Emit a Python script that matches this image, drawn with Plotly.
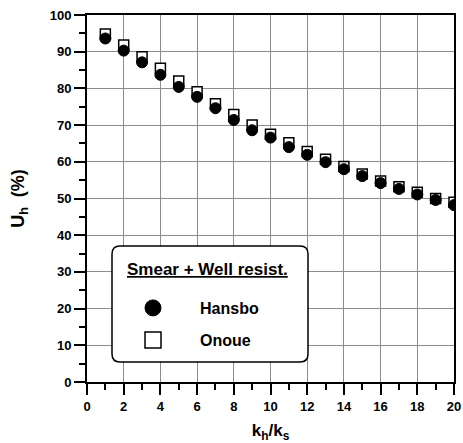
import plotly.graph_objects as go

# Data
kh_ks = [1, 2, 3, 4, 5, 6, 7, 8, 9, 10, 11, 12, 13, 14, 15, 16, 17, 18, 19, 20]
hansbo = [93.6, 90.3, 87.1, 83.7, 80.4, 77.7, 74.6, 71.4, 68.6, 66.6, 64.0, 61.9, 59.9, 58.0, 56.1, 54.2, 52.6, 51.1, 49.6, 48.2]
onoue = [94.8, 91.8, 88.6, 85.5, 82.0, 79.1, 75.8, 72.9, 70.0, 67.5, 65.2, 62.8, 60.7, 58.7, 56.7, 54.8, 53.2, 51.7, 50.0, 49.0]
series_names = ["Hansbo", "Onoue"]
legend_title = "Smear + Well resist."
x_ticks = [0, 2, 4, 6, 8, 10, 12, 14, 16, 18, 20]
y_ticks = [0, 10, 20, 30, 40, 50, 60, 70, 80, 90, 100]

FONT = "Liberation Sans"

fig = go.Figure()

# plotted data (squares first, circles on top)
fig.add_trace(go.Scatter(x=kh_ks, y=onoue, mode="markers", showlegend=False,
                         marker=dict(symbol="square", size=10, color="white",
                                     line=dict(color="black", width=1.5))))
fig.add_trace(go.Scatter(x=kh_ks, y=hansbo, mode="markers", showlegend=False,
                         marker=dict(symbol="circle", size=11, color="black",
                                     line=dict(color="black", width=1))))

# legend entries
fig.add_trace(go.Scatter(x=[None], y=[None], mode="markers", name=series_names[0],
                         legend="legend",
                         marker=dict(symbol="circle", size=20, color="black",
                                     line=dict(color="black", width=1))))
fig.add_trace(go.Scatter(x=[None], y=[None], mode="markers", name=series_names[1],
                         legend="legend2",
                         marker=dict(symbol="square", size=20, color="white",
                                     line=dict(color="black", width=1.5))))

W, H = 463, 443
L, R, T, B = 87, 9, 15, 61
pw, ph = W - L - R, H - T - B

def px(xp):
    return (xp - L) / pw

def py(yp):
    return (H - B - yp) / ph

legend_common = dict(xanchor="left", yanchor="middle", bgcolor="rgba(0,0,0,0)",
                     borderwidth=0, itemwidth=84,
                     font=dict(family=FONT, size=16, color="black", weight="bold"))

# rounded legend box
x0, x1 = px(112), px(308)
y0, y1 = py(362), py(246)
r = 8 / pw
path = (f"M {x0+r},{y0} L {x1-r},{y0} Q {x1},{y0} {x1},{y0+r} "
        f"L {x1},{y1-r} Q {x1},{y1} {x1-r},{y1} L {x0+r},{y1} "
        f"Q {x0},{y1} {x0},{y1-r} L {x0},{y0+r} Q {x0},{y0} {x0+r},{y0} Z")

axis_common = dict(showline=True, linecolor="black", linewidth=2, mirror=True,
                   ticks="outside", ticklen=11, tickwidth=2, tickcolor="black",
                   showgrid=True, gridcolor="#8c8c8c", gridwidth=1, griddash="solid",
                   zeroline=False,
                   tickfont=dict(family=FONT, size=13, color="black", weight="bold"))

fig.update_layout(
    width=W, height=H,
    margin=dict(l=L, r=R, t=T, b=B, autoexpand=False),
    paper_bgcolor="white", plot_bgcolor="white",
    xaxis=dict(range=[0, 20], tickvals=x_ticks,
               minor=dict(dtick=1, tick0=0, ticks="outside", ticklen=6, tickwidth=2,
                          tickcolor="black", showgrid=False),
               title=dict(text="k<sub>h</sub>/k<sub>s</sub>", standoff=13,
                          font=dict(family=FONT, size=17, color="black", weight="bold")),
               **axis_common),
    yaxis=dict(range=[0, 100], tickvals=y_ticks,
               minor=dict(dtick=5, tick0=0, ticks="outside", ticklen=6, tickwidth=2,
                          tickcolor="black", showgrid=False),
               title=dict(text="U<sub>h</sub>  (%)", standoff=20,
                          font=dict(family=FONT, size=18, color="black", weight="bold")),
               **axis_common),
    legend=dict(x=px(106), y=py(308), **legend_common),
    legend2=dict(x=px(106), y=py(340), **legend_common),
    shapes=[dict(type="path", xref="paper", yref="paper", path=path,
                 fillcolor="white", line=dict(color="black", width=1.5),
                 layer="above")],
    annotations=[dict(text=f"<b><u>{legend_title}</u></b>", xref="paper", yref="paper",
                      x=px(125), y=py(269), xanchor="left", yanchor="middle",
                      showarrow=False,
                      font=dict(family=FONT, size=17, color="black"))],
)

fig.write_html("out.html")
